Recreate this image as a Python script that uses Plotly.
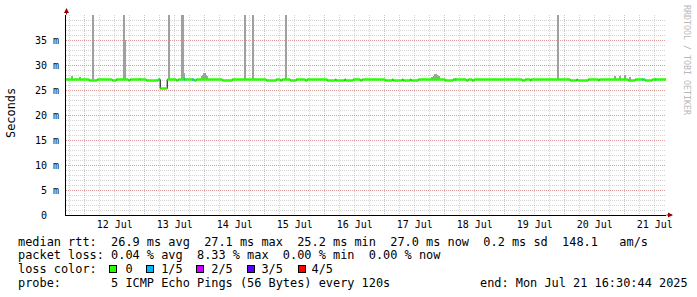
import plotly.graph_objects as go
import pandas as pd

START = "2025-07-11 16:30:44"
END = "2025-07-21 16:30:44"
BIN_MS = 24 * 60 * 1000  # one consolidated step (24 min)

# median rtt (ms): baseline level plus periods where it sat lower
MEDIAN_BASE = 27.1
DIP_START = [
    "2025-07-12 01:48", "2025-07-12 11:00", "2025-07-12 17:24", "2025-07-13 00:36",
    "2025-07-13 06:12", "2025-07-13 12:36", "2025-07-13 19:48", "2025-07-14 07:00",
    "2025-07-15 00:36", "2025-07-15 06:12", "2025-07-15 10:12", "2025-07-15 16:12",
    "2025-07-16 01:00", "2025-07-16 04:36", "2025-07-16 08:24", "2025-07-16 14:12",
    "2025-07-17 00:12", "2025-07-17 03:24", "2025-07-17 07:24", "2025-07-17 10:36",
    "2025-07-18 00:12", "2025-07-18 08:36", "2025-07-18 11:00", "2025-07-19 07:00",
    "2025-07-19 10:12", "2025-07-20 02:12", "2025-07-20 05:12", "2025-07-20 13:24",
    "2025-07-21 01:24", "2025-07-21 08:12",
]
DIP_END = [
    "2025-07-12 05:00", "2025-07-12 12:36", "2025-07-12 18:12", "2025-07-13 05:24",
    "2025-07-13 09:00", "2025-07-13 13:24", "2025-07-13 20:36", "2025-07-14 11:00",
    "2025-07-15 04:36", "2025-07-15 07:00", "2025-07-15 12:36", "2025-07-15 17:00",
    "2025-07-16 04:12", "2025-07-16 08:00", "2025-07-16 11:24", "2025-07-16 15:00",
    "2025-07-17 03:00", "2025-07-17 07:00", "2025-07-17 10:12", "2025-07-17 13:24",
    "2025-07-18 03:24", "2025-07-18 09:24", "2025-07-18 11:48", "2025-07-19 08:12",
    "2025-07-19 10:36", "2025-07-20 04:48", "2025-07-20 09:24", "2025-07-20 13:48",
    "2025-07-21 04:12", "2025-07-21 11:00",
]
DIP_VALUE = [
    26.9, 26.9, 26.9, 26.9,
    25.3, 26.9, 26.9, 26.9,
    26.9, 26.9, 26.9, 26.9,
    26.9, 26.9, 26.9, 26.9,
    26.9, 26.9, 26.9, 26.9,
    26.9, 26.9, 26.9, 26.9,
    26.9, 26.9, 26.9, 26.9,
    26.9, 26.9,
]

# steps with 1/5 packet loss
LOSS_TIMES = ["2025-07-13 05:36", "2025-07-13 15:48", "2025-07-13 19:00",
              "2025-07-18 04:12", "2025-07-21 07:00", "2025-07-21 12:12"]
LOSS_VALUES = [27.1, 27.1, 27.1, 27.1, 27.1, 27.1]

# smoke (max rtt, ms)
SMOKE_TIMES = [
    "2025-07-11 19:00", "2025-07-11 22:12", "2025-07-12 03:24",
    "2025-07-12 15:48", "2025-07-12 16:12", "2025-07-12 22:12",
    "2025-07-13 09:48", "2025-07-13 15:00", "2025-07-13 15:24",
    "2025-07-13 15:48", "2025-07-13 23:00", "2025-07-13 23:24",
    "2025-07-13 23:48", "2025-07-14 00:12", "2025-07-14 00:36",
    "2025-07-14 01:00", "2025-07-14 16:12", "2025-07-14 19:24",
    "2025-07-15 08:36", "2025-07-17 19:00", "2025-07-17 19:48",
    "2025-07-17 20:12", "2025-07-17 20:36", "2025-07-17 21:00",
    "2025-07-17 21:48", "2025-07-19 21:24", "2025-07-20 20:12",
    "2025-07-20 22:12", "2025-07-21 00:12", "2025-07-21 02:12",
]
SMOKE_TOPS = [
    27.8, 27.6, 45,
    45, 35, 27.5,
    45, 45, 45,
    28.5, 27.8, 28.0,
    28.4, 28.4, 28.0,
    27.8, 45, 45,
    45, 27.6, 27.8,
    28.2, 28.2, 28.0,
    27.8, 45, 27.8,
    27.9, 28.0, 27.7,
]
SMOKE_BASE = 27.0

NB = "\u00a0"
Y_TICKS = [0, 5, 10, 15, 20, 25, 30, 35]
Y_LABELS = ["0" + NB + NB, "5 m", "10 m", "15 m", "20 m", "25 m", "30 m", "35 m"]

LOSS_COLORS = ["#26ff00", "#00b8ff", "#c800ff", "#5a00ff", "#ff0000"]
LOSS_NAMES = ["0", "1/5", "2/5", "3/5", "4/5"]

MONO = "DejaVu Sans Mono"


def dt(lst):
    return list(pd.to_datetime(lst, format="mixed"))


# build the median step series from the baseline and dips
ds, de = dt(DIP_START), dt(DIP_END)
t_start, t_end = dt([START, END])
seg = []  # (t0, t1, value)
cur = t_start
for a, b, v in zip(ds, de, DIP_VALUE):
    seg.append((cur, a, MEDIAN_BASE))
    seg.append((a, b, v))
    cur = b
seg.append((cur, t_end, MEDIAN_BASE))

fig = go.Figure()

# smoke
fig.add_trace(go.Bar(
    x=dt(SMOKE_TIMES), y=[t - SMOKE_BASE for t in SMOKE_TOPS],
    base=SMOKE_BASE, width=BIN_MS, marker=dict(color="#a0a0a0", line=dict(width=0)),
    hoverinfo="skip", showlegend=False))

# black median step line
fig.add_trace(go.Scatter(
    x=[s[0] for s in seg] + [t_end], y=[s[2] for s in seg] + [seg[-1][2]],
    mode="lines", line=dict(color="#000000", width=1, shape="hv"),
    hoverinfo="skip", showlegend=False))

# green horizontal segments
gx, gy = [], []
for a, b, v in seg:
    gx += [a, b, None]
    gy += [v, v, None]
fig.add_trace(go.Scatter(x=gx, y=gy, mode="lines",
                         line=dict(color=LOSS_COLORS[0], width=2.5),
                         hoverinfo="skip", showlegend=False))

# 1/5 loss segments
bx, by = [], []
for t, v in zip(dt(LOSS_TIMES), LOSS_VALUES):
    bx += [t, t + pd.Timedelta(milliseconds=BIN_MS), None]
    by += [v, v, None]
fig.add_trace(go.Scatter(x=bx, y=by, mode="lines",
                         line=dict(color=LOSS_COLORS[1], width=2.5),
                         hoverinfo="skip", showlegend=False))

GRID = "rgba(150,150,150,0.4)"
MGRID = "rgba(225,70,70,0.4)"

fig.update_layout(
    width=697, height=297,
    margin=dict(l=66, r=31, t=15, b=82),
    paper_bgcolor="white", plot_bgcolor="white",
    font=dict(family=MONO, size=10, color="black"),
    bargap=0,
    xaxis=dict(
        type="date", range=[START, END],
        dtick=86400000, tick0="2025-07-12", tickformat="%d %b",
        ticklabelmode="period", ticks="",
        showgrid=True, gridcolor=MGRID, griddash="1px,1px", gridwidth=1,
        minor=dict(dtick=21600000, tick0="2025-07-12", showgrid=True,
                   gridcolor=GRID, griddash="1px,1px", gridwidth=1),
        showline=True, linecolor="black", linewidth=1,
        zeroline=False, tickfont=dict(family=MONO, size=10, color="black"),
    ),
    yaxis=dict(
        range=[0, 40], tickmode="array", tickvals=Y_TICKS, ticktext=Y_LABELS,
        ticks="", ticklabelstandoff=4,
        showgrid=True, gridcolor=MGRID, griddash="1px,1px", gridwidth=1,
        minor=dict(tickmode="linear", dtick=1, tick0=0, showgrid=True,
                   gridcolor=GRID, griddash="1px,1px", gridwidth=1),
        showline=True, linecolor="black", linewidth=1,
        zeroline=False, tickfont=dict(family=MONO, size=10, color="black"),
    ),
)


def px(xp):
    return (xp - 66) / 600.0


def py(yp):
    return (215 - yp) / 200.0


def nb(s):
    return s.replace(" ", NB)


ann = []
LEG = 11.9
lines = [
    (241.5, "median rtt:  26.9 ms avg  27.1 ms max  25.2 ms min  27.0 ms now  0.2 ms sd  148.1   am/s"),
    (255.3, "packet loss: 0.04 % avg  8.33 % max  0.00 % min  0.00 % now"),
    (269.1, "loss color:    0    1/5    2/5    3/5    4/5"),
    (282.9, "probe:       5 ICMP Echo Pings (56 Bytes) every 120s"),
]
for yy, s in lines:
    ann.append(dict(x=px(16), y=py(yy), xref="paper", yref="paper", text=nb(s),
                    showarrow=False, xanchor="left", yanchor="middle",
                    font=dict(family=MONO, size=LEG, color="black")))
ann.append(dict(x=px(478), y=py(282.9), xref="paper", yref="paper",
                text=nb("end: Mon Jul 21 16:30:44 2025"), showarrow=False,
                xanchor="left", yanchor="middle",
                font=dict(family=MONO, size=LEG, color="black")))

BOX_X = [112.7, 149.7, 200.0, 251.3, 301.8]
for bxp, col in zip(BOX_X, LOSS_COLORS):
    ann.append(dict(x=px(bxp), y=py(269.2), xref="paper", yref="paper", text=" ",
                    showarrow=False, xanchor="center", yanchor="middle",
                    width=6, height=6, borderpad=0, borderwidth=1,
                    bordercolor="black", bgcolor=col, font=dict(size=1)))

ann.append(dict(x=px(11), y=py(113), xref="paper", yref="paper", text="Seconds",
                textangle=-90, showarrow=False, xanchor="center", yanchor="middle",
                font=dict(family=MONO, size=LEG, color="black")))
ann.append(dict(x=px(687), y=py(60), xref="paper", yref="paper",
                text=nb("RRDTOOL / TOBI OETIKER"), textangle=90, showarrow=False,
                xanchor="center", yanchor="middle",
                font=dict(family=MONO, size=8.3, color="#b8b8b8")))

# axis arrows
ann.append(dict(x=px(66.5), y=py(8), xref="paper", yref="paper", text="",
                showarrow=True, ax=0, ay=8, arrowhead=2, arrowsize=1,
                arrowwidth=1, arrowcolor="#990000", standoff=0))
ann.append(dict(x=px(673), y=py(215), xref="paper", yref="paper", text="",
                showarrow=True, ax=-8, ay=0, arrowhead=2, arrowsize=1,
                arrowwidth=1, arrowcolor="#990000", standoff=0))

fig.update_layout(annotations=ann)
fig.write_html("out.html", config={"displayModeBar": False},
               post_script="document.body.style.margin='0';")
